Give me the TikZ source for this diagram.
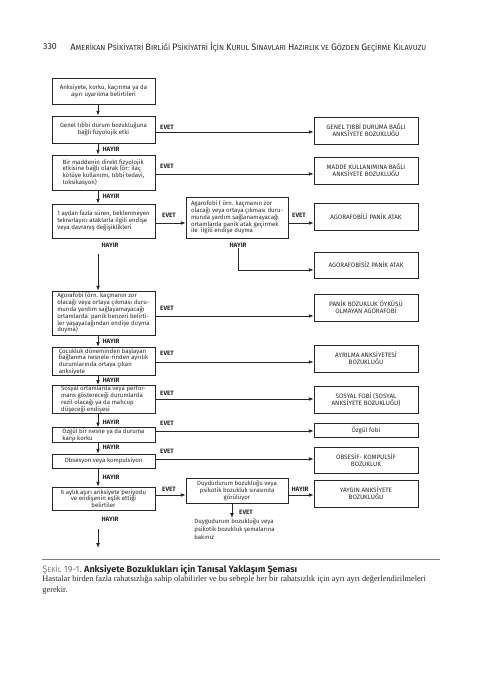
\documentclass[tikz,border=0pt]{standalone}
\usepackage{fontspec}
\setmainfont{Liberation Serif}
\setsansfont{Fira Sans}
\usetikzlibrary{arrows.meta}
\definecolor{ink}{RGB}{40,40,40}
\definecolor{capgray}{RGB}{125,125,125}
\newcommand\hdcap[2]{{\fontsize{7}{8}\selectfont #1}{\fontsize{5.5}{8}\selectfont #2}}

\tikzset{every picture/.style={line width=0.6pt}}
\tikzset{
  txt/.style={font=\sffamily\fontsize{4.55}{5.1}\selectfont, text=ink, inner xsep=1.5pt, inner ysep=0.8pt},
  lbox/.style={txt, draw=ink, minimum width=77.25pt},
  mbox/.style={txt, draw=ink, minimum width=76.5pt},
  rbox/.style={txt, draw=ink, minimum width=78pt, align=center, font=\sffamily\fontsize{4.75}{5.3}\selectfont},
  lab/.style={font=\sffamily\bfseries\fontsize{4.7}{5}\selectfont, text=ink, inner sep=0.5pt},
  arr/.style={draw=ink, -{Latex[length=3.6pt,width=2.8pt]}}
}

\begin{document}
\begin{tikzpicture}[x=0.75pt,y=0.75pt,yscale=-1,xscale=1]
\useasboundingbox (0,0) rectangle (477,680);

% Header
\draw (50,47) node [font=\sffamily\fontsize{6.6}{7}\selectfont, text=ink] (pg) {330};
\draw (70,47) node [anchor=west, font=\sffamily\fontsize{5.5}{8}\selectfont, text=ink, inner sep=0pt] (hd) {\hdcap{A}{MERİKAN} \hdcap{P}{SİKİYATRİ} \hdcap{B}{IRLİĞİ} \hdcap{P}{SİKİYATRİ} \hdcap{İ}{ÇİN} \hdcap{K}{URUL} \hdcap{S}{INAVLARI} \hdcap{H}{AZIRLIK} \hdcap{}{VE} \hdcap{G}{ÖZDEN} \hdcap{G}{EÇİRME} \hdcap{K}{ILAVUZU}};

% rows and column of the connectors
\coordinate (vx) at (98,0);
\coordinate (r2) at (0,132);
\coordinate (r3) at (0,174);
\coordinate (r4) at (0,223);
\coordinate (r4b) at (0,270);
\coordinate (r5) at (0,316);
\coordinate (r6) at (0,362);
\coordinate (r7) at (0,399);
\coordinate (r8) at (0,431);
\coordinate (r9) at (0,459);
\coordinate (r10) at (0,495);
\coordinate (ax) at (232,0);

%Shape: Rectangle (left column)
\node [lbox, align=center, minimum height=19.5pt] (L1) at (103.5,91) {Anksiyete, korku, kaçınma ya da\\aşırı uyarılma belirtileri};
\node [lbox, align=center, minimum height=20.25pt] (L2) at (103.5,129.5) {Genel tıbbi durum bozukluğuna\\bağlı fizyolojik etki};
\node [lbox, align=left, minimum height=26.25pt] (L3) at (103.5,172.5) {Bir maddenin direkt fizyolojik\hspace{14pt}\\etkisine bağlı olarak (ör: ilaç\\kötüye kullanımı, tıbbi tedavi,\\toksikasyon)};
\node [lbox, align=left, minimum height=25.5pt] (L4) at (103.5,221) {1 aydan fazla süren, beklenmeyen\\tekrarlayıcı ataklarla ilgili endişe\\veya davranış değişiklikleri};
\node [lbox, align=left, minimum height=33pt] (L5) at (103.5,313) {Agorafobi (örn. kaçmanın zor\\olacağı veya ortaya çıkması duru-\\munda yardım sağlayamayacağı\\ortamlarda\ \ panik benzeri belirti-\\ler yaşayacağından endişe duyma\\duyma)};
\node [lbox, align=left, minimum height=20.25pt] (L6) at (103.5,361.5) {Çocukluk döneminden başlayan\hspace{6pt}\\bağlanma nesnele-rinden ayrılık\\durumlarında ortaya çıkan\\anksiyete};
\node [lbox, align=left, minimum height=20.25pt] (L7) at (103.5,399.5) {Sosyal ortamlarda veya perfor-\hspace{8pt}\\mans göstereceği durumlarda\\rezil olacağı ya da mahcup\\düşeceği endişesi};
\node [lbox, align=left, minimum height=10.5pt, inner ysep=0.3pt] (L8) at (103.5,435) {Özgül bir nesne ya da duruma\hspace{14pt}\\karşı korku};
\node [lbox, align=center, minimum height=10.5pt] (L9) at (103.5,461) {Obsesyon veya kompulsiyon};
\node [lbox, align=center, minimum height=17.25pt] (L10) at (103.5,498.5) {6 aylık aşırı anksiyete periyodu\\ve endişenin eşlik ettiği\\belirtiler};

%Shape: Rectangle (middle column)
\node [mbox, align=left, minimum height=30.75pt] (M4) at (237,217.5) {Agarofobi ( örn. kaçmanın zor\\olacağı veya ortaya çıkması duru-\\munda yardım sağlanamayacağı\\ortamlarda panik atak geçirmek\\ile\ \ ilgili endişe duyma};
\node [mbox, align=center, minimum height=18.75pt] (M10) at (237,490.5) {Duydudurum bozukluğu veya\\psikotik bozukluk sırasında\\görülüyor};

%Shape: Rectangle (right column)
\node [rbox, minimum height=20.25pt] (R2) at (366,130.5) {GENEL TIBBİ DURUMA BAĞLI\\ANKSİYETE BOZUKLUĞU};
\node [rbox, minimum height=20.25pt] (R3) at (366,170.5) {MADDE KULLANIMINA BAĞLI\\ANKSİYETE BOZUKLUĞU};
\node [rbox, minimum height=20.25pt] (R4) at (366,216.5) {AGORAFOBİLİ PANİK ATAK};
\node [rbox, minimum height=19.5pt] (R4b) at (366,265) {AGORAFOBİSİZ PANİK ATAK};
\node [rbox, minimum height=20.25pt] (R5) at (366,307.5) {PANİK BOZUKLUK ÖYKÜSÜ\\OLMAYAN AGORAFOBİ};
\node [rbox, minimum height=20.25pt] (R6) at (366,358.5) {AYRILMA ANKSİYETESİ\\BOZUKLUĞU};
\node [rbox, minimum height=20.25pt] (R7) at (366,399.5) {SOSYAL FOBİ (SOSYAL\\ANKSİYETE BOZUKLUĞU)};
\node [rbox, minimum height=10.5pt, inner ysep=0.3pt] (R8) at (366,430) {Özgül fobi};
\node [rbox, minimum height=19.5pt] (R9) at (366,460) {OBSESİF- KOMPULSİF\\BOZUKLUK};
\node [rbox, minimum height=20.25pt] (R10) at (366,493.5) {YAYGIN ANKSİYETE\\BOZUKLUĞU};

% Text Node
\node [txt, anchor=north west, align=left, inner sep=0pt, font=\sffamily\fontsize{4.55}{6}\selectfont] (D10) at (194,518) {Duygudurum bozukluğu veya\\psikotik bozukluk şemalarına\\bakınız};

% Text Node (labels)
\draw (167,127) node [lab] (e2) {EVET};
\draw (167,166) node [lab] (e3) {EVET};
\draw (169,215) node [lab] (e4a) {EVET};
\draw (299,215) node [lab] (e4b) {EVET};
\draw (167,308) node [lab] (e5) {EVET};
\draw (167,353) node [lab] (e6) {EVET};
\draw (167,393) node [lab] (e7) {EVET};
\draw (167,423) node [lab] (e8) {EVET};
\draw (167,451) node [lab] (e9) {EVET};
\draw (169,489) node [lab] (e10a) {EVET};
\draw (300,489) node [lab] (h10b) {HAYIR};
\draw (246,512) node [lab] (e10b) {EVET};
\draw (111,149) node [lab] (h3) {HAYIR};
\draw (111,196) node [lab] (h4) {HAYIR};
\draw (110,245) node [lab] (h5) {HAYIR};
\draw (238,245) node [lab] (hM4) {HAYIR};
\draw (111,341) node [lab] (h6) {HAYIR};
\draw (111,380) node [lab] (h7) {HAYIR};
\draw (111,422) node [lab] (h8) {HAYIR};
\draw (111,447) node [lab] (h9) {HAYIR};
\draw (111,477) node [lab] (h10) {HAYIR};
\draw (110,519) node [lab] (h11) {HAYIR};

\coordinate (s5) at (98,254);
\coordinate (s11) at (98,529);
\coordinate (t11) at (98,548);

%Straight Lines (HAYIR, downwards)
\draw [arr] (L1.south -| vx) -- (L2.north -| vx);
\draw [arr] (L2.south -| vx) -- (L3.north -| vx);
\draw [arr] (L3.south -| vx) -- (L4.north -| vx);
\draw [arr] (s5) -- (L5.north -| vx);
\draw [arr] (L5.south -| vx) -- (L6.north -| vx);
\draw [arr] (L6.south -| vx) -- (L7.north -| vx);
\draw [arr] (L7.south -| vx) -- (L8.north -| vx);
\draw [arr] (L8.south -| vx) -- (L9.north -| vx);
\draw [arr] (L9.south -| vx) -- (L10.north -| vx);
\draw [arr] (s11) -- (t11);

%Straight Lines (EVET, to the right)
\draw [arr] (L2.east |- r2) -- (R2.west |- r2);
\draw [arr] (L3.east |- r3) -- (R3.west |- r3);
\draw [arr] (L4.east |- r4) -- (M4.west |- r4);
\draw [arr] (M4.east |- r4) -- (R4.west |- r4);
\draw [arr] (hM4.south) |- (R4b.west |- r4b);
\draw [arr] (L5.east |- r5) -- (R5.west |- r5);
\draw [arr] (L6.east |- r6) -- (R6.west |- r6);
\draw [arr] (L7.east |- r7) -- (R7.west |- r7);
\draw [arr] (L8.east |- r8) -- (R8.west |- r8);
\draw [arr] (L9.east |- r9) -- (R9.west |- r9);
\draw [arr] (L10.east |- r10) -- (M10.west |- r10);
\draw [arr] (M10.east |- r10) -- (R10.west |- r10);
\draw [arr] (M10.south -| ax) -- (D10.north -| ax);

% Caption
\draw [capgray, line width=0.7pt] (42,559) -- (440,559);
\draw (42,570) node [anchor=west, inner sep=0pt, font=\sffamily\fontsize{6.8}{8}\selectfont] (cap) {\textcolor{capgray}{{\fontsize{7}{8}\selectfont Ş}{\fontsize{5.5}{8}\selectfont EKİL} 19-1.}\ \textcolor{ink}{\bfseries Anksiyete Bozuklukları için Tanısal Yaklaşım Şeması}};
\draw (42,575) node [anchor=north west, inner sep=0pt, align=left, text=ink, font=\rmfamily\fontsize{6.25}{8.25}\selectfont] (body) {Hastalar birden fazla rahatsızlığa sahip olabilirler ve bu sebeple her bir rahatsızlık için ayrı ayrı değerlendirilmeleri\\gerekir.};

\end{tikzpicture}
\end{document}
